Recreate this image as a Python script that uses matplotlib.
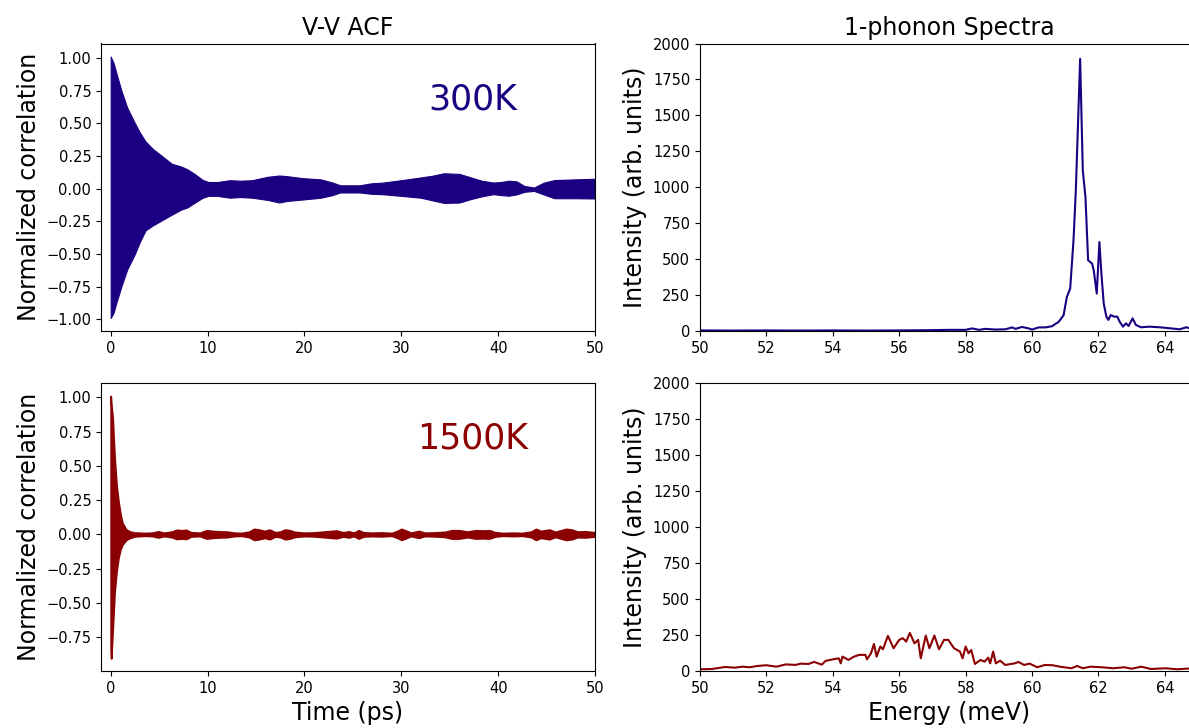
import matplotlib
matplotlib.use("Agg")
import matplotlib.pyplot as plt

# ---------------- data ----------------
# 300K velocity autocorrelation: envelope of the fast oscillation
t300 = [0, 0.3, 0.6, 1.1, 1.7, 2.5, 3.0, 3.6, 4.4, 5.5, 6.3, 7.3, 7.9,
        8.7, 9.5, 10.1, 11, 12.3, 13.4, 14.6, 16.2, 17.4, 18.2,
        19.8, 21.7, 22.9, 23.7, 25.7, 26.9, 28, 30, 32, 33.2,
        34.4, 36, 37.2, 38.3, 39.5, 40.3, 41.1, 41.9, 42.7, 43.7,
        44.7, 45.8, 47.8, 50]
up300 = [1.01, 0.96, 0.88, 0.75, 0.62, 0.5, 0.43, 0.36, 0.30, 0.237, 0.19, 0.168, 0.148,
         0.11, 0.066, 0.05, 0.05, 0.064, 0.06, 0.064, 0.09, 0.10, 0.095,
         0.08, 0.07, 0.046, 0.025, 0.025, 0.04, 0.045, 0.064, 0.085, 0.098,
         0.117, 0.112, 0.085, 0.06, 0.046, 0.05, 0.06, 0.055, 0.02, 0.008,
         0.045, 0.065, 0.07, 0.075]
lo300 = [-0.99, -0.95, -0.87, -0.75, -0.62, -0.5, -0.41, -0.32, -0.28, -0.234, -0.2, -0.16, -0.145,
         -0.107, -0.07, -0.056, -0.056, -0.07, -0.065, -0.07, -0.087, -0.107, -0.095,
         -0.084, -0.07, -0.05, -0.03, -0.03, -0.04, -0.043, -0.056, -0.07, -0.09,
         -0.11, -0.107, -0.08, -0.06, -0.043, -0.05, -0.055, -0.045, -0.025, -0.018,
         -0.045, -0.074, -0.074, -0.076]

# 1500K: initial decay (asymmetric) + tail envelope (symmetric)
t1500_head = [0, 0.05, 0.2, 0.4, 0.6, 0.8, 1.0, 1.2, 1.6, 2.0, 2.5]
up1500_head = [1.01, 0.95, 0.85, 0.56, 0.36, 0.24, 0.15, 0.085, 0.036, 0.02, 0.013]
lo1500_head = [-0.85, -0.905, -0.7, -0.42, -0.27, -0.17, -0.11, -0.075, -0.04, -0.025, -0.014]
t1500_tail = [3.0, 3.5, 4.3, 4.9, 5.5, 6.3, 6.8, 7.3, 7.8, 8.3,
              9.2, 9.9, 10.5, 11.2, 12.0, 12.8, 13.5, 14.3, 14.8, 15.3,
              15.9, 16.4, 17.0, 17.5, 18.0, 18.5, 19.0, 20.0, 21.0, 22.0,
              22.8, 23.3, 24.0, 24.6, 25.1, 25.6, 26.1, 27.0, 28.0, 29.0,
              29.6, 30.0, 30.4, 31.0, 31.8, 32.4, 33.5, 34.5, 35.2, 36.0,
              36.8, 37.7, 38.4, 39.1, 39.7, 40.5, 41.5, 42.5, 43.4, 43.9,
              44.4, 45.3, 45.9, 46.5, 47.0, 47.6, 48.2, 49.0, 50.0]
amp1500_tail = [0.012, 0.01, 0.012, 0.022, 0.012, 0.02, 0.033, 0.03, 0.033, 0.015,
                0.012, 0.03, 0.025, 0.022, 0.02, 0.012, 0.01, 0.02, 0.04, 0.035,
                0.025, 0.035, 0.015, 0.02, 0.035, 0.03, 0.018, 0.012, 0.014, 0.02,
                0.025, 0.028, 0.015, 0.022, 0.012, 0.03, 0.015, 0.012, 0.014, 0.01,
                0.025, 0.04, 0.03, 0.012, 0.025, 0.012, 0.014, 0.018, 0.03, 0.03,
                0.02, 0.03, 0.028, 0.03, 0.015, 0.01, 0.012, 0.01, 0.02, 0.04,
                0.025, 0.035, 0.018, 0.03, 0.04, 0.035, 0.02, 0.022, 0.015]

# 1-phonon spectra
E300 = [50, 51, 52, 53, 54, 55, 56, 57, 57.5, 58.0,
        58.2, 58.4, 58.6, 58.9, 59.2, 59.4, 59.5, 59.7, 59.9, 60.0,
        60.2, 60.4, 60.6, 60.8, 60.95, 61.05, 61.15, 61.25, 61.32, 61.45,
        61.53, 61.61, 61.69, 61.81, 61.86, 61.95, 62.03, 62.09, 62.16, 62.24,
        62.3, 62.37, 62.47, 62.57, 62.64, 62.74, 62.83, 62.91, 63.03, 63.13,
        63.28, 63.54, 63.84, 64.15, 64.45, 64.65, 64.85]
I300 = [4, 3, 4, 3, 4, 3, 4, 6, 8, 8,
        18, 8, 15, 10, 12, 25, 15, 28, 18, 10,
        25, 25, 33, 63, 109, 237, 295, 631, 979, 1893,
        1117, 932, 492, 469, 422, 260, 619, 400, 192, 100,
        77, 111, 100, 100, 65, 30, 53, 35, 88, 42,
        26, 30, 26, 19, 12, 26, 12]

E1500 = [50.0, 50.36, 50.76, 51.05, 51.28, 51.5, 51.73, 52.0, 52.3, 52.59,
         52.87, 53.04, 53.27, 53.44, 53.67, 53.78, 54.0, 54.18, 54.24, 54.29,
         54.47, 54.64, 54.8, 54.98, 55.03, 55.15, 55.24, 55.32, 55.43, 55.51,
         55.66, 55.83, 56.0, 56.11, 56.21, 56.32, 56.46, 56.57, 56.65, 56.8,
         56.91, 57.06, 57.2, 57.35, 57.48, 57.65, 57.83, 57.91, 58.0, 58.09,
         58.17, 58.28, 58.45, 58.57, 58.68, 58.74, 58.83, 58.91, 59.04, 59.19,
         59.48, 59.59, 59.76, 59.93, 60.16, 60.39, 60.62, 60.84, 61.19, 61.36,
         61.53, 61.76, 62.1, 62.44, 62.78, 63.0, 63.29, 63.58, 64.03, 64.37,
         64.85]
I1500 = [12, 14, 28, 23, 30, 26, 35, 40, 30, 46,
         42, 51, 49, 63, 44, 70, 81, 88, 53, 100,
         77, 100, 112, 112, 81, 123, 188, 100, 170, 151,
         244, 158, 216, 228, 204, 265, 192, 216, 88, 246,
         158, 246, 151, 216, 216, 158, 135, 88, 170, 123,
         146, 49, 77, 65, 93, 53, 135, 53, 72, 42,
         53, 63, 42, 51, 26, 42, 40, 30, 19, 35,
         19, 30, 26, 19, 26, 16, 30, 14, 19, 12,
         19]

# ---------------- style ----------------
BLUE = "#1b0082"
RED = "#8b0000"
W, H = 1189, 728

fig = plt.figure(figsize=(W / 100, H / 100), dpi=100)


def box(x0, y0, x1, y1):
    return [x0 / W, 1 - y1 / H, (x1 - x0) / W, (y1 - y0) / H]


ax1 = fig.add_axes(box(101, 43.5, 595, 331))
ax2 = fig.add_axes(box(700, 43.5, 1198, 331))
ax3 = fig.add_axes(box(101, 383, 595, 671))
ax4 = fig.add_axes(box(700, 383, 1198, 671))

# ACF 300K
ax1.fill_between(t300, lo300, up300, color=BLUE, linewidth=0.8, edgecolor=BLUE)
ax1.set_xlim(-1, 50)
ax1.set_ylim(-1.09, 1.11)
ax1.set_yticks([-1.0, -0.75, -0.5, -0.25, 0.0, 0.25, 0.5, 0.75, 1.0])
ax1.set_xticks([0, 10, 20, 30, 40, 50])
ax1.set_ylabel("Normalized correlation", fontsize=17)
ax1.set_title("V-V ACF", fontsize=17)
ax1.text(37.4, 0.68, "300K", color=BLUE, fontsize=25, ha="center", va="center")

# ACF 1500K
t1500 = t1500_head + t1500_tail
up1500 = up1500_head + amp1500_tail
lo1500 = lo1500_head + [-a for a in amp1500_tail]
ax3.fill_between(t1500, lo1500, up1500, color=RED, linewidth=1.3, edgecolor=RED,
                 joinstyle="round")
ax3.set_xlim(-1, 50)
ax3.set_ylim(-0.997, 1.105)
ax3.set_yticks([-0.75, -0.5, -0.25, 0.0, 0.25, 0.5, 0.75, 1.0])
ax3.set_xticks([0, 10, 20, 30, 40, 50])
ax3.set_ylabel("Normalized correlation", fontsize=17)
ax3.set_xlabel("Time (ps)", fontsize=17)
ax3.text(37.4, 0.70, "1500K", color=RED, fontsize=25, ha="center", va="center")

# Spectra
ax2.plot(E300, I300, color=BLUE, linewidth=1.5)
ax2.set_title("1-phonon Spectra", fontsize=17)
ax4.plot(E1500, I1500, color=RED, linewidth=1.5)
ax4.set_xlabel("Energy (meV)", fontsize=17)
for ax in (ax2, ax4):
    ax.set_xlim(50, 65)
    ax.set_ylim(0, 2000)
    ax.set_xticks([50, 52, 54, 56, 58, 60, 62, 64])
    ax.set_yticks([0, 250, 500, 750, 1000, 1250, 1500, 1750, 2000])
    ax.set_ylabel("Intensity (arb. units)", fontsize=17)

for ax in (ax1, ax2, ax3, ax4):
    ax.tick_params(labelsize=10.5)

fig.savefig("out.png", dpi=100)
